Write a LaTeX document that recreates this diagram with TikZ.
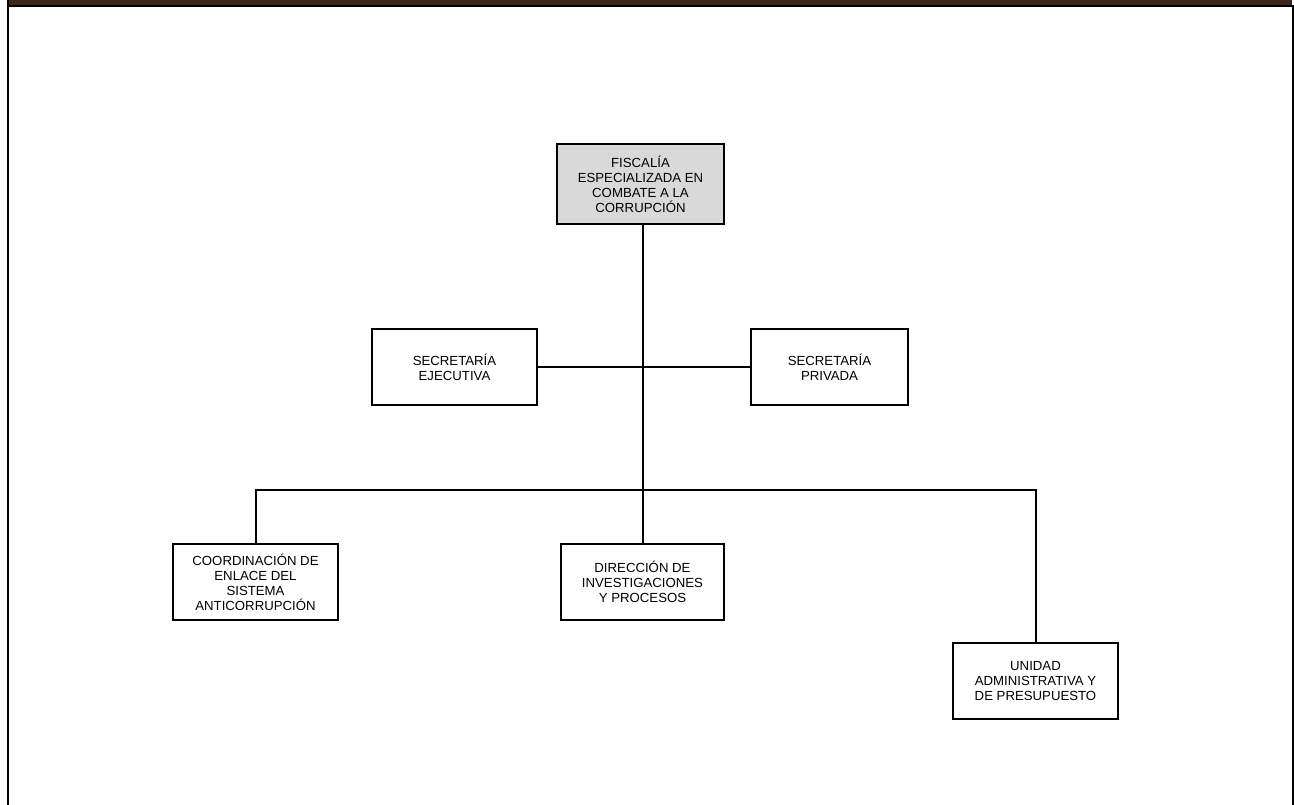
\documentclass[tikz,border=0pt]{standalone}
\usepackage{fontspec}
\setmainfont{Liberation Sans}
\definecolor{topbrown}{RGB}{61,38,30}
\definecolor{boxgray}{RGB}{217,217,217}
\begin{document}
\begin{tikzpicture}[x=1pt,y=-1pt,
  orgbox/.style={draw=black,line width=2pt,fill=white,align=center,
    font=\fontsize{13.2}{15}\selectfont,inner sep=2pt},
  link/.style={draw=black,line width=2pt}]
\useasboundingbox (0,0) rectangle (1294,805);
% frame
\fill[topbrown] (8,0) rectangle (1292,5.5);
\fill[black] (8,5) rectangle (1294,7.5);
\fill[black] (7,0) rectangle (9.3,805);
\fill[black] (1292,5) rectangle (1294,805);
% nodes
\node[orgbox,fill=boxgray,minimum width=167pt,minimum height=80pt] (fis) at (640.5,184)
  {FISCALÍA\\ESPECIALIZADA EN\\COMBATE A LA\\CORRUPCIÓN};
\node[orgbox,minimum width=165pt,minimum height=76pt] (se) at (454.5,367)
  {SECRETARÍA\\EJECUTIVA};
\node[orgbox,minimum width=157pt,minimum height=76pt] (sp) at (829.5,367)
  {SECRETARÍA\\PRIVADA};
\node[orgbox,minimum width=165pt,minimum height=76pt] (co) at (255.5,582)
  {COORDINACIÓN DE\\ENLACE DEL\\SISTEMA\\ANTICORRUPCIÓN};
\node[orgbox,minimum width=163pt,minimum height=76pt] (di) at (642.5,582)
  {DIRECCIÓN DE\\INVESTIGACIONES\\Y PROCESOS};
\node[orgbox,minimum width=165pt,minimum height=76pt] (un) at (1035.5,681)
  {UNIDAD\\ADMINISTRATIVA Y\\DE PRESUPUESTO};
% connectors
\coordinate (trunk) at (643,490);
\coordinate (barL) at (256,490);
\coordinate (barR) at (1036,490);
\draw[link] (fis.south -| trunk) -- (trunk) -- (di.north -| trunk);
\draw[link] (se.east) -- (sp.west);
\draw[link] (co.north -| barL) -- (barL) -- (barR) -- (un.north -| barR);
\end{tikzpicture}
\end{document}
